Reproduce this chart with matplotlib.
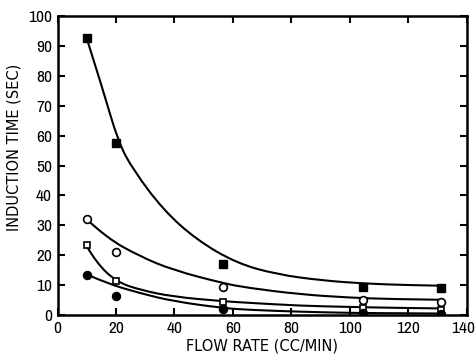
import matplotlib

matplotlib.use("Agg")

import matplotlib.pyplot as plt
from matplotlib import font_manager
from matplotlib.patches import PathPatch
from matplotlib.path import Path
from matplotlib.transforms import ScaledTranslation

# measured points (flow rate in cc/min, induction time in s)
flow_rate = [10, 20, 56.5, 104.5, 131]
filled_square = [92.5, 57.5, 17, 9.4, 9.0]
open_circle = [32, 21, 9.5, 5.0, 4.4]
open_square = [23.3, 11.3, 4.5, 2.3, 1.8]
filled_circle = [13.5, 6.3, 2.0, 0.7, 0.5]

# hand-fitted trend curves
curve_top_x = [10, 15.5, 20.8, 25.9, 36.2, 47.6, 61.3, 75, 90, 105, 120, 131]
curve_top_y = [92.5, 75.5, 57.8, 48.5, 35.1, 25.1, 17.3, 13.6, 11.6, 10.5, 10, 9.8]
curve_circle_x = [10, 16.8, 28.2, 39.6, 56.7, 65, 83, 100, 115, 131]
curve_circle_y = [32, 25.8, 19.6, 15, 10.6, 9.1, 6.9, 5.8, 5.3, 5.1]
curve_square_x = [10, 13.4, 20.2, 28.2, 39.6, 56.7, 65, 83, 100, 115, 131]
curve_square_y = [23, 17.3, 11.1, 8.4, 6.1, 4.6, 4.1, 3.1, 2.7, 2.4, 2.2]
curve_dot_x = [10.5, 16.8, 28.2, 39.6, 56.7, 66, 83, 100, 115, 131]
curve_dot_y = [13.4, 10.6, 7.3, 4.6, 2.3, 1.7, 1.1, 0.7, 0.6, 0.5]

x_ticks = [0, 20, 40, 60, 80, 100, 120, 140]
y_ticks = [0, 10, 20, 30, 40, 50, 60, 70, 80, 90, 100]


def narrow_font():
    # prefer any condensed / narrow face for the tall tick digits
    for font in font_manager.fontManager.ttflist:
        if "Narrow" in font.name or "Condensed" in font.name:
            return {"family": font.name}
    for font in font_manager.fontManager.ttflist:
        if font.name == "DejaVu Sans" and font.stretch in ("condensed", "semi-condensed", 500):
            return {"family": "DejaVu Sans", "stretch": "condensed"}
    return {"family": "Liberation Sans"}


def smooth_curve(axis, xs, ys):
    # quadratic spline: interior points act as control points, midpoints as knots
    vertices = [(xs[0], ys[0])]
    codes = [Path.MOVETO]
    for i in range(1, len(xs) - 1):
        mid = ((xs[i] + xs[i + 1]) / 2, (ys[i] + ys[i + 1]) / 2)
        if i == len(xs) - 2:
            mid = (xs[i + 1], ys[i + 1])
        vertices += [(xs[i], ys[i]), mid]
        codes += [Path.CURVE3, Path.CURVE3]
    patch = PathPatch(Path(vertices, codes), facecolor="none", edgecolor="black",
                      linewidth=1.5, capstyle="round", joinstyle="round",
                      transform=axis.transData, zorder=2)
    axis.add_patch(patch)


figure = plt.figure(figsize=(4.76, 3.57), dpi=100)
axis = figure.add_axes([0.1208, 0.1176, 0.8602, 0.8376])

smooth_curve(axis, curve_top_x, curve_top_y)
smooth_curve(axis, curve_circle_x, curve_circle_y)
smooth_curve(axis, curve_square_x, curve_square_y)
smooth_curve(axis, curve_dot_x, curve_dot_y)

axis.plot(flow_rate, filled_square, linestyle="none", marker="s", markersize=5.2,
          markerfacecolor="black", markeredgecolor="black", zorder=3)
axis.plot(flow_rate, open_circle, linestyle="none", marker="o", markersize=5.6,
          markerfacecolor="white", markeredgecolor="black", markeredgewidth=1.2, zorder=3)
axis.plot(flow_rate, open_square, linestyle="none", marker="s", markersize=5.0,
          markerfacecolor="white", markeredgecolor="black", markeredgewidth=1.2, zorder=3)
axis.plot(flow_rate, filled_circle, linestyle="none", marker="o", markersize=5.8,
          markerfacecolor="black", markeredgecolor="black", zorder=3)

axis.set_xlim(0, 140)
axis.set_ylim(0, 100)
axis.set_xticks(x_ticks)
axis.set_yticks(y_ticks)
tick_style = dict(narrow_font(), fontsize=12.5)
axis.set_xticklabels([str(v) for v in x_ticks], **tick_style)
axis.set_yticklabels([str(v) for v in y_ticks], **tick_style)
axis.tick_params(direction="in", length=5, width=1.5, top=True, right=True, pad=4)

# the last x label sits against the figure edge; nudge it inward
last_label = axis.get_xticklabels()[-1]
last_label.set_transform(last_label.get_transform()
                         + ScaledTranslation(-3 / 72, 0, figure.dpi_scale_trans))

for spine in axis.spines.values():
    spine.set_linewidth(1.8)

axis.set_xlabel("FLOW RATE (CC/MIN)", fontsize=10.5, labelpad=2)
axis.set_ylabel("INDUCTION TIME (SEC)", fontsize=10.5)
axis.yaxis.set_label_coords(-0.089, 0.562)

figure.savefig("out.png", dpi=100)
plt.close(figure)
